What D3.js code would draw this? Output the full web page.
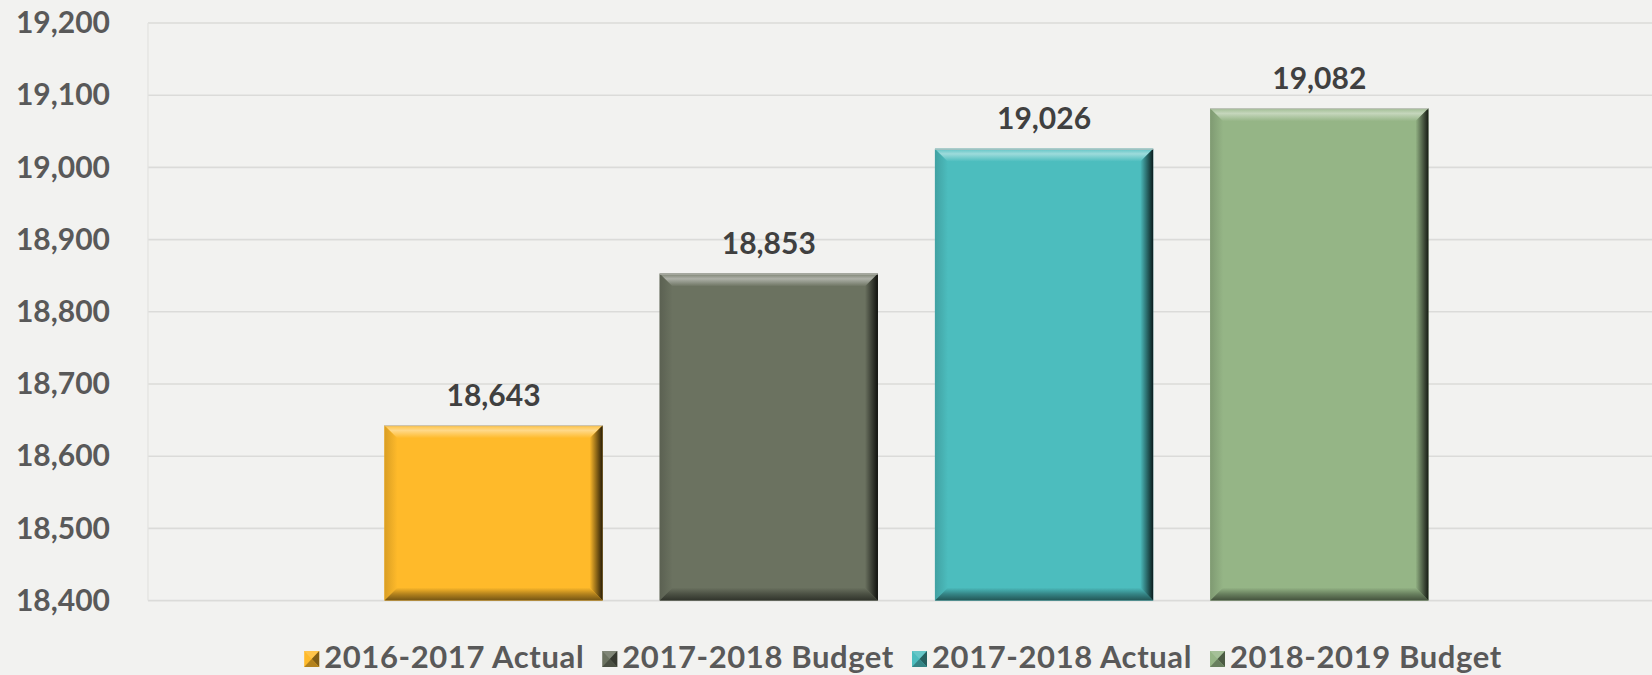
<!DOCTYPE html>
<html>
<head>
<meta charset="utf-8">
<script src="https://cdn.jsdelivr.net/npm/d3@7"></script>
<style>
  body { margin: 0; background: #f2f2f0; }
  svg { display: block; }
  text { font-family: Lato, "Open Sans", sans-serif; font-weight: 700; }
</style>
</head>
<body>
<div id="chart"></div>
<script>
// chart data
const series = ['2016-2017 Actual', '2017-2018 Budget', '2017-2018 Actual', '2018-2019 Budget'];
const values = [18643, 18853, 19026, 19082];
const colors = ['#ffba2a', '#6b7260', '#4cbdbe', '#95b586'];
const yTicks = [18400, 18500, 18600, 18700, 18800, 18900, 19000, 19100, 19200];

const W = 1652, H = 675;
const plot = { left: 148, right: 1652, top: 23, bottom: 600.6 };

const svg = d3.select('#chart').append('svg')
    .attr('width', W)
    .attr('height', H);

svg.append('rect').attr('width', W).attr('height', H).attr('fill', '#f2f2f0');

const defs = svg.append('defs');

const y = d3.scaleLinear().domain([18400, 19200]).range([plot.bottom, plot.top]);
const x = d3.scaleBand().domain(series).range([plot.left, plot.right])
    .paddingInner(0.207).paddingOuter(0.8355).align(0.514);

// gridlines
svg.append('g')
    .selectAll('line')
    .data(yTicks)
    .join('line')
    .attr('x1', plot.left)
    .attr('x2', plot.right)
    .attr('y1', d => y(d))
    .attr('y2', d => y(d))
    .attr('stroke', '#dbdbd9')
    .attr('stroke-width', 1.6);

svg.append('line')
    .attr('x1', plot.left).attr('x2', plot.left)
    .attr('y1', plot.top).attr('y2', plot.bottom)
    .attr('stroke', '#e2e2e0')
    .attr('stroke-width', 1.2);

// y axis
const yAxis = svg.append('g')
    .attr('transform', 'translate(' + plot.left + ',0)')
    .call(d3.axisLeft(y).tickValues(yTicks).tickSize(0).tickPadding(38).tickFormat(d3.format(',')));
yAxis.select('.domain').remove();
yAxis.selectAll('text')
    .attr('fill', '#595959')
    .style('font-size', '30px');

// gradient helper for bevel sides
function grad(id, x1, y1, x2, y2, stops) {
    const g = defs.append('linearGradient').attr('id', id)
        .attr('x1', x1).attr('y1', y1).attr('x2', x2).attr('y2', y2);
    stops.forEach(s => g.append('stop').attr('offset', s[0]).attr('stop-color', s[1]));
}

function bevel(g, x0, y0, x1, y1, b, base, key) {
    const c = d3.color(base);
    const light = d3.interpolateRgb(base, '#ffffff');
    const dark = d3.interpolateRgb(base, '#000000');
    grad('top' + key, 0, 0, 0, 1, [[0, dark(0.12)], [0.12, light(0.2)], [0.4, light(0.45)], [1, c.formatHex()]]);
    grad('right' + key, 1, 0, 0, 0, [[0, dark(0.85)], [0.3, dark(0.6)], [1, c.formatHex()]]);
    grad('bottom' + key, 0, 1, 0, 0, [[0, dark(0.55)], [0.5, dark(0.3)], [1, c.formatHex()]]);
    grad('left' + key, 0, 0, 1, 0, [[0, dark(0.15)], [1, c.formatHex()]]);

    g.append('rect')
        .attr('x', x0).attr('y', y0)
        .attr('width', x1 - x0).attr('height', y1 - y0)
        .attr('fill', base);
    const pts = {
        top: [[x0, y0], [x1, y0], [x1 - b, y0 + b], [x0 + b, y0 + b]],
        left: [[x0, y0], [x0 + b, y0 + b], [x0 + b, y1 - b], [x0, y1]],
        bottom: [[x0, y1], [x0 + b, y1 - b], [x1 - b, y1 - b], [x1, y1]],
        right: [[x1, y0], [x1, y1], [x1 - b, y1 - b], [x1 - b, y0 + b]]
    };
    ['left', 'bottom', 'top', 'right'].forEach(side => {
        g.append('polygon')
            .attr('points', pts[side].map(p => p.join(',')).join(' '))
            .attr('fill', 'url(#' + side + key + ')');
    });
    // thin light rim along the top edge
    g.append('line')
        .attr('x1', x0).attr('x2', x1).attr('y1', y0 + 0.5).attr('y2', y0 + 0.5)
        .attr('stroke', '#c8c8c4').attr('stroke-width', 1);
}

// bars
const bars = svg.append('g');
series.forEach((s, i) => {
    const x0 = x(s), x1 = x(s) + x.bandwidth();
    const y0 = y(values[i]), y1 = y(18400);
    bevel(bars.append('g'), x0, y0, x1, y1, 13, colors[i], 'b' + i);
});

// value labels
svg.append('g')
    .selectAll('text')
    .data(values)
    .join('text')
    .attr('x', (d, i) => x(series[i]) + x.bandwidth() / 2)
    .attr('y', d => y(d) - 19.5)
    .attr('text-anchor', 'middle')
    .attr('fill', '#404040')
    .style('font-size', '30px')
    .text(d => d3.format(',')(d));

// legend
const legend = svg.append('g');
const items = legend.selectAll('g')
    .data(series)
    .join('g');
const sz = 15, my = 651;
items.each(function (s, i) {
    const g = d3.select(this);
    const m = g.append('g');
    const c = colors[i];
    const light = d3.interpolateRgb(c, '#ffffff');
    const dark = d3.interpolateRgb(c, '#000000');
    const h = 16;
    m.append('rect').attr('x', 0).attr('y', my).attr('width', sz).attr('height', h).attr('fill', c);
    m.append('polygon').attr('points', [[0, my], [sz, my], [sz / 2, my + h / 2]].map(p => p.join(',')).join(' ')).attr('fill', light(0.15));
    m.append('polygon').attr('points', [[sz, my], [sz, my + h], [sz / 2, my + h / 2]].map(p => p.join(',')).join(' ')).attr('fill', dark(0.5));
    m.append('polygon').attr('points', [[0, my + h], [sz, my + h], [sz / 2, my + h / 2]].map(p => p.join(',')).join(' ')).attr('fill', dark(0.3));
    g.append('text')
        .attr('x', sz + 5)
        .attr('y', 668)
        .attr('fill', '#595959')
        .style('font-size', '31px')
        .style('letter-spacing', '0.6px')
        .text(s);
});
let cursor = 0;
items.each(function () {
    const g = d3.select(this);
    g.attr('transform', 'translate(' + cursor + ',0)');
    cursor += sz + 5 + g.select('text').node().getComputedTextLength() + 18;
});
const total = cursor - 18;
legend.attr('transform', 'translate(' + (903 - total / 2) + ',0)');
</script>
</body>
</html>
